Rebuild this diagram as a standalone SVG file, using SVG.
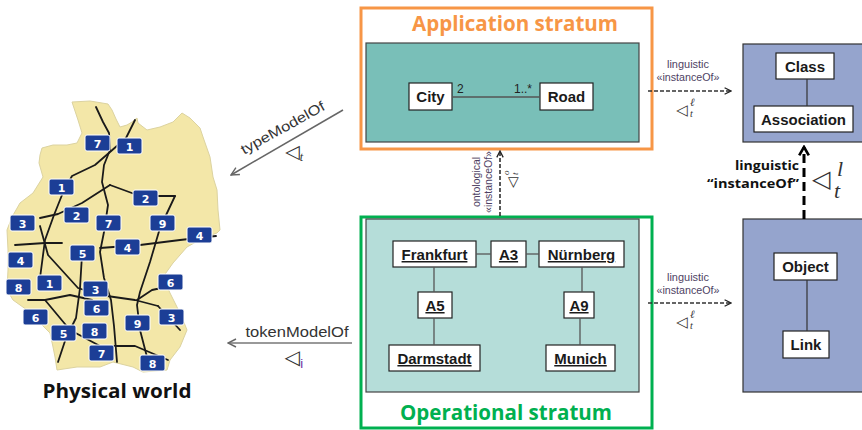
<svg xmlns="http://www.w3.org/2000/svg" width="862" height="430" viewBox="0 0 862 430">
<style>
.nb{fill:#fff;stroke:#222;stroke-width:1.2}
.nt{font-family:"Liberation Sans",Arial,sans-serif;font-weight:bold;font-size:15px;fill:#1a1a1a;text-anchor:middle}
.u{text-decoration:underline}
.ln{stroke:#555;stroke-width:1.3;fill:none}
.bd{fill:#1c3e96;stroke:#fff;stroke-width:1}
.bn{font-family:"DejaVu Sans",sans-serif;font-weight:bold;font-size:11px;fill:#fff;text-anchor:middle}
.hw{stroke:#1a1a1a;stroke-width:1.8;fill:none;stroke-linejoin:round;stroke-linecap:round}
.sm{font-family:"Liberation Sans",Arial,sans-serif;font-size:10.5px;fill:#4e3f63;text-anchor:middle}
.lab{font-family:"Liberation Sans",Arial,sans-serif;font-size:14px;fill:#333}
.sym{font-family:"DejaVu Sans",sans-serif;fill:#333}
.it{font-family:"Liberation Serif",serif;font-style:italic;fill:#333}
</style>
<defs>
<marker id="chev" viewBox="0 0 10 10" refX="9" refY="5" markerWidth="8" markerHeight="8" orient="auto" markerUnits="userSpaceOnUse">
<path d="M1,1 L9,5 L1,9" fill="none" stroke="#222" stroke-width="1.6"/>
</marker>
<marker id="chevg" viewBox="0 0 10 10" refX="9" refY="5" markerWidth="10" markerHeight="10" orient="auto" markerUnits="userSpaceOnUse">
<path d="M1,1 L9,5 L1,9" fill="none" stroke="#666" stroke-width="1.4"/>
</marker>
<marker id="chevb" viewBox="0 0 10 10" refX="8" refY="5" markerWidth="12" markerHeight="12" orient="auto" markerUnits="userSpaceOnUse">
<path d="M1,1 L8,5 L1,9" fill="none" stroke="#000" stroke-width="2.2"/>
</marker>
</defs>
<rect width="862" height="430" fill="#fff"/>

<!-- Physical world map -->
<g id="physical-world">
<path d="M72,102 L90,101 L108,104 L112,110 L116,119 L120,127 L127,125 L132,122 L137,118 L138,123 L147,130 L160,127 L173,122 L182,113 L190,118 L200,128 L203,137 L210,157 L213,177 L217,190 L218,210 L220,230 L217,233 L203,238 L187,247 L173,263 L163,277 L170,293 L177,307 L183,320 L187,330 L180,347 L170,360 L167,370 L143,372 L133,367 L113,362 L100,367 L77,367 L57,370 L55,357 L53,347 L50,333 L40,323 L27,310 L13,300 L7,290 L8,270 L8,250 L7,230 L12,217 L20,203 L33,193 L43,177 L39,163 L40,155 L42,148 L53,145 L67,145 L77,143 L82,133 L78,120 Z" fill="#f3e7a8" stroke="#dcd3a0" stroke-width="1"/>
<g class="hw">
<polyline points="96,107 103,122 109,133 110,150 104,165 102,182 108,205 104,232 100,252 104,278 111,300 114,326 117,362"/>
<polyline points="135,120 126,138 110,152 95,165 72,176 62,195 54,215 45,240 40,278"/>
<polyline points="110,185 82,203 58,214 40,218"/>
<polyline points="110,185 140,196 175,196"/>
<polyline points="175,196 160,228 150,262 140,292 137,305 140,330 147,357"/>
<polyline points="15,245 45,243 62,243"/>
<polyline points="100,248 140,245 180,240 216,236"/>
<polyline points="40,226 48,255 78,288 100,295 135,300 158,306"/>
<polyline points="82,255 80,288 76,318 66,338 58,362"/>
<polyline points="28,300 45,300 70,295 92,300"/>
<polyline points="45,300 70,330 100,346 135,346 168,360"/>
<polyline points="158,306 180,330"/>
<polyline points="137,300 152,290 166,287"/>
</g>
<g>
<rect class="bd" x="85" y="135" width="25" height="16" rx="2"/><text class="bn" x="97.5" y="147.5">7</text>
<rect class="bd" x="117" y="138" width="25" height="16" rx="2"/><text class="bn" x="129.5" y="150.5">1</text>
<rect class="bd" x="49" y="179" width="25" height="16" rx="2"/><text class="bn" x="61.5" y="191.5">1</text>
<rect class="bd" x="133" y="190" width="25" height="16" rx="2"/><text class="bn" x="145.5" y="202.5">2</text>
<rect class="bd" x="64" y="207" width="25" height="16" rx="2"/><text class="bn" x="76.5" y="219.5">2</text>
<rect class="bd" x="96" y="215" width="25" height="16" rx="2"/><text class="bn" x="108.5" y="227.5">7</text>
<rect class="bd" x="150" y="215" width="25" height="16" rx="2"/><text class="bn" x="162.5" y="227.5">9</text>
<rect class="bd" x="10" y="215" width="25" height="16" rx="2"/><text class="bn" x="22.5" y="227.5">3</text>
<rect class="bd" x="187" y="227" width="25" height="16" rx="2"/><text class="bn" x="199.5" y="239.5">4</text>
<rect class="bd" x="115" y="239" width="25" height="16" rx="2"/><text class="bn" x="127.5" y="251.5">4</text>
<rect class="bd" x="70" y="245" width="25" height="16" rx="2"/><text class="bn" x="82.5" y="257.5">5</text>
<rect class="bd" x="8" y="252" width="25" height="16" rx="2"/><text class="bn" x="20.5" y="264.5">4</text>
<rect class="bd" x="6" y="279" width="25" height="16" rx="2"/><text class="bn" x="18.5" y="291.5">8</text>
<rect class="bd" x="37" y="275" width="25" height="16" rx="2"/><text class="bn" x="49.5" y="287.5">1</text>
<rect class="bd" x="158" y="274" width="25" height="16" rx="2"/><text class="bn" x="170.5" y="286.5">6</text>
<rect class="bd" x="83" y="281" width="25" height="16" rx="2"/><text class="bn" x="95.5" y="293.5">3</text>
<rect class="bd" x="84" y="300" width="25" height="16" rx="2"/><text class="bn" x="96.5" y="312.5">6</text>
<rect class="bd" x="23" y="309" width="25" height="16" rx="2"/><text class="bn" x="35.5" y="321.5">6</text>
<rect class="bd" x="125" y="315" width="25" height="16" rx="2"/><text class="bn" x="137.5" y="327.5">9</text>
<rect class="bd" x="159" y="309" width="25" height="16" rx="2"/><text class="bn" x="171.5" y="321.5">3</text>
<rect class="bd" x="51" y="325" width="25" height="16" rx="2"/><text class="bn" x="63.5" y="337.5">5</text>
<rect class="bd" x="82" y="323" width="25" height="16" rx="2"/><text class="bn" x="94.5" y="335.5">8</text>
<rect class="bd" x="89" y="345" width="25" height="16" rx="2"/><text class="bn" x="101.5" y="357.5">7</text>
<rect class="bd" x="140" y="355" width="25" height="16" rx="2"/><text class="bn" x="152.5" y="367.5">8</text>
</g>
<text x="117" y="398" font-family="'Open Sans','Noto Sans',sans-serif" font-weight="bold" font-size="19" fill="#111" text-anchor="middle" textLength="149" lengthAdjust="spacingAndGlyphs">Physical world</text>
</g>

<!-- Application stratum -->
<g id="application-stratum">
<rect x="361" y="8" width="291" height="141" fill="#fff" stroke="#f79646" stroke-width="3"/>
<text x="515" y="31" font-family="'Open Sans','Noto Sans',sans-serif" font-weight="bold" font-size="22" fill="#f79646" text-anchor="middle" textLength="206" lengthAdjust="spacingAndGlyphs">Application stratum</text>
<rect x="366" y="43" width="273" height="99" fill="#79bfb8" stroke="#444" stroke-width="1.2"/>
</g>
<g id="city"><rect class="nb" x="409" y="83" width="43" height="27"/><text class="nt" x="430.5" y="102">City</text></g>
<g id="road"><rect class="nb" x="540" y="83" width="53" height="27"/><text class="nt" x="566.5" y="102">Road</text></g>

<!-- Operational stratum -->
<g id="operational-stratum">
<rect x="361" y="217" width="291" height="211" fill="#fff" stroke="#00b050" stroke-width="3"/>
<rect x="366" y="219" width="273" height="173" fill="#b5ddd9" stroke="#444" stroke-width="1.2"/>
<text x="506" y="420" font-family="'Open Sans','Noto Sans',sans-serif" font-weight="bold" font-size="22" fill="#00b050" text-anchor="middle" textLength="212" lengthAdjust="spacingAndGlyphs">Operational stratum</text>
</g>
<g id="frankfurt"><rect class="nb" x="393" y="241" width="83" height="26"/><text class="nt u" x="434.5" y="260">Frankfurt</text></g>
<g id="a3"><rect class="nb" x="491" y="241" width="35" height="26"/><text class="nt u" x="508.5" y="260">A3</text></g>
<g id="nuernberg"><rect class="nb" x="539" y="241" width="85" height="26"/><text class="nt u" x="581.5" y="260">Nürnberg</text></g>
<g id="a5"><rect class="nb" x="418" y="292" width="34" height="26"/><text class="nt u" x="435" y="311">A5</text></g>
<g id="a9"><rect class="nb" x="564" y="292" width="30" height="26"/><text class="nt u" x="579" y="311">A9</text></g>
<g id="darmstadt"><rect class="nb" x="389" y="345" width="91" height="26"/><text class="nt u" x="434.5" y="364">Darmstadt</text></g>
<g id="munich"><rect class="nb" x="546" y="345" width="69" height="26"/><text class="nt u" x="580.5" y="364">Munich</text></g>

<!-- Linguistic metamodel -->
<g id="linguistic-class-level">
<rect x="743" y="44" width="122" height="98" fill="#95a4cd" stroke="#333" stroke-width="1.2"/>
</g>
<g id="class"><rect class="nb" x="776" y="53" width="58" height="26"/><text class="nt" x="805" y="72">Class</text></g>
<g id="association"><rect class="nb" x="754" y="106" width="99" height="26"/><text class="nt" x="803.5" y="125">Association</text></g>
<g id="linguistic-object-level">
<rect x="743" y="219" width="122" height="173" fill="#95a4cd" stroke="#333" stroke-width="1.2"/>
</g>
<g id="object"><rect class="nb" x="774" y="253" width="63" height="27"/><text class="nt" x="805.5" y="272">Object</text></g>
<g id="link"><rect class="nb" x="783" y="331" width="46" height="27"/><text class="nt" x="806" y="350">Link</text></g>

<!-- Connectors -->
<g id="connectors">
<line class="ln" x1="452" y1="97" x2="540" y2="97" stroke="#222"/>
<text x="457" y="93" font-family="'Liberation Sans',Arial,sans-serif" font-size="12" fill="#222">2</text>
<text x="514" y="93" font-family="'Liberation Sans',Arial,sans-serif" font-size="12" fill="#222">1..*</text>
<line class="ln" x1="476" y1="254" x2="491" y2="254"/>
<line class="ln" x1="526" y1="254" x2="539" y2="254"/>
<line class="ln" x1="434" y1="267" x2="434" y2="292"/>
<line class="ln" x1="434" y1="318" x2="434" y2="345"/>
<line class="ln" x1="582" y1="267" x2="582" y2="292" stroke="#222"/>
<line class="ln" x1="580" y1="318" x2="580" y2="345"/>
<line x1="807" y1="79" x2="807" y2="106" stroke="#333" stroke-width="1.2"/>
<line x1="807" y1="280" x2="807" y2="331" stroke="#333" stroke-width="1.2"/>

<!-- typeModelOf -->
<line x1="343" y1="110" x2="231" y2="175" stroke="#666" stroke-width="1.5" marker-end="url(#chevg)"/>
<text class="lab" transform="translate(285,132) rotate(-29)" text-anchor="middle" textLength="94" lengthAdjust="spacingAndGlyphs">typeModelOf</text>
<text class="sym" x="294" y="158" font-size="19" text-anchor="middle">◁<tspan class="it" font-size="12" dy="3">t</tspan></text>

<!-- tokenModelOf -->
<line x1="352" y1="343" x2="228" y2="343" stroke="#777" stroke-width="1.5" marker-end="url(#chevg)"/>
<text class="lab" x="297" y="337" text-anchor="middle" textLength="103" lengthAdjust="spacingAndGlyphs">tokenModelOf</text>
<text class="sym" x="294" y="364" font-size="20" text-anchor="middle">◁<tspan font-family="'Liberation Sans',sans-serif" fill="#7030a0" font-size="13" dy="4">i</tspan></text>

<!-- ontological instanceOf -->
<line x1="500" y1="216" x2="500" y2="151" stroke="#222" stroke-width="1.5" stroke-dasharray="4,2" marker-end="url(#chev)"/>
<text class="sm" font-size="9" transform="translate(480,182) rotate(-90)" fill="#333">ontological</text>
<text class="sm" font-size="9" transform="translate(492,182) rotate(-90)" fill="#333">«instanceOf»</text>
<g transform="translate(512,182) rotate(-90)">
<text class="sym" x="-6" y="5" font-size="14">◁</text>
<text class="it" x="7" y="-3" font-size="9">o</text>
<text class="it" x="7" y="6" font-size="9">t</text>
</g>

<!-- linguistic instanceOf (application) -->
<line x1="648" y1="91" x2="731" y2="91" stroke="#333" stroke-width="1.5" stroke-dasharray="4,2" marker-end="url(#chev)"/>
<text class="sm" x="688" y="68" textLength="42" lengthAdjust="spacingAndGlyphs">linguistic</text>
<text class="sm" x="688" y="81" textLength="63" lengthAdjust="spacingAndGlyphs">«instanceOf»</text>
<text class="sym" x="676" y="115" font-size="15">◁</text>
<text class="it" x="690" y="106" font-size="11">ℓ</text>
<text class="it" x="690" y="117" font-size="10">t</text>

<!-- linguistic instanceOf (operational) -->
<line x1="648" y1="303" x2="731" y2="303" stroke="#333" stroke-width="1.5" stroke-dasharray="4,2" marker-end="url(#chev)"/>
<text class="sm" x="688" y="281" textLength="42" lengthAdjust="spacingAndGlyphs">linguistic</text>
<text class="sm" x="688" y="294" textLength="63" lengthAdjust="spacingAndGlyphs">«instanceOf»</text>
<text class="sym" x="676" y="327" font-size="15">◁</text>
<text class="it" x="690" y="318" font-size="11">ℓ</text>
<text class="it" x="690" y="329" font-size="10">t</text>

<!-- linguistic "instanceOf" vertical -->
<line x1="804" y1="219" x2="804" y2="147" stroke="#000" stroke-width="3" stroke-dasharray="9,5" marker-end="url(#chevb)"/>
<text x="799" y="170" font-family="'Open Sans','Noto Sans',sans-serif" font-weight="bold" font-size="13" fill="#111" text-anchor="end" textLength="64" lengthAdjust="spacingAndGlyphs">linguistic</text>
<text x="799" y="188" font-family="'Open Sans','Noto Sans',sans-serif" font-weight="bold" font-size="13" fill="#111" text-anchor="end" textLength="92" lengthAdjust="spacingAndGlyphs">“instanceOf”</text>
<text class="sym" x="812" y="187" font-size="24" fill="#555">◁</text>
<text class="it" x="837" y="176" font-size="22" fill="#111">l</text>
<text class="it" x="834" y="198" font-size="22" fill="#111">t</text>
</g>
</svg>
